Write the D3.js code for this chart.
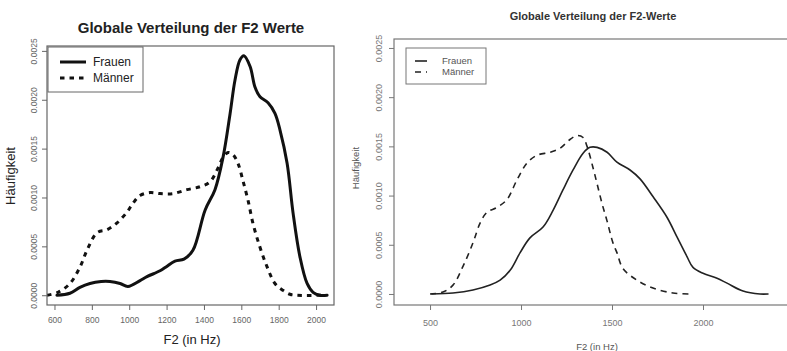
<!DOCTYPE html>
<html>
<head>
<meta charset="utf-8">
<script src="https://cdn.jsdelivr.net/npm/d3@7"></script>
<style>
  html, body { margin: 0; padding: 0; background: #fff; }
  svg { display: block; font-family: "Liberation Sans", Arial, sans-serif; }
</style>
</head>
<body>
<svg id="chart" width="787" height="351"></svg>
<script>
// Density estimates of F2 (Hz), women vs. men — two versions of the same plot
const seriesNames = ["Frauen", "Männer"];

// Left plot: [Hz, density]
const leftFrauen = [
  [613, 0], [683, 0.00002], [736, 0.00008], [790, 0.00012], [850, 0.00014], [897, 0.00014],
  [951, 0.00012], [993, 0.00009], [1058, 0.00015], [1095, 0.00019], [1165, 0.00025],
  [1197, 0.00029], [1245, 0.00035], [1293, 0.00037], [1341, 0.00046], [1406, 0.00087],
  [1459, 0.00108], [1502, 0.00141], [1540, 0.00186], [1566, 0.0022], [1593, 0.00241],
  [1614, 0.00245], [1647, 0.00234], [1673, 0.00213], [1700, 0.00203], [1743, 0.00197],
  [1780, 0.00186], [1807, 0.00169], [1845, 0.00135], [1877, 0.00084], [1914, 0.00039],
  [1952, 0.00012], [1984, 0.00003], [2020, 0], [2059, 0]
];
const leftMaenner = [
  [560, 0], [619, 0.00003], [683, 0.00012], [737, 0.00029], [774, 0.00046], [828, 0.00064],
  [881, 0.00067], [935, 0.00074], [988, 0.00085], [1020, 0.00094], [1058, 0.00102],
  [1111, 0.00105], [1165, 0.00104], [1234, 0.00104], [1309, 0.00108], [1379, 0.00111],
  [1432, 0.00116], [1475, 0.0013], [1502, 0.00141], [1529, 0.00146], [1555, 0.00144],
  [1582, 0.00135], [1609, 0.00117], [1636, 0.00097], [1663, 0.00073], [1700, 0.00049],
  [1738, 0.00029], [1780, 0.00012], [1823, 0.00005], [1860, 0.00001], [1898, 0], [2037, 0]
];

// Right plot: [Hz, density]
const rightFrauen = [
  [510, 0], [626, 0.00001], [736, 0.00004], [830, 0.00009], [885, 0.00014], [940, 0.00024],
  [995, 0.00042], [1049, 0.00057], [1121, 0.00068], [1176, 0.00085], [1231, 0.00106],
  [1286, 0.00126], [1341, 0.00143], [1379, 0.00149], [1418, 0.00149], [1473, 0.00144],
  [1527, 0.00134], [1599, 0.00126], [1654, 0.00117], [1725, 0.00099], [1802, 0.00078],
  [1857, 0.00058], [1912, 0.00038], [1945, 0.00027], [2000, 0.00021], [2077, 0.00016],
  [2132, 0.00011], [2220, 0.00003], [2313, 0], [2357, 0]
];
const rightMaenner = [
  [500, 0], [571, 0.00002], [626, 0.00009], [681, 0.00028], [736, 0.00052], [775, 0.00072],
  [813, 0.00083], [868, 0.00088], [923, 0.00096], [978, 0.00116], [1033, 0.00133],
  [1088, 0.00141], [1159, 0.00144], [1214, 0.00148], [1269, 0.00157], [1308, 0.00161],
  [1341, 0.00159], [1363, 0.0015], [1396, 0.00128], [1418, 0.00112], [1445, 0.00092],
  [1473, 0.00074], [1505, 0.00052], [1527, 0.00042], [1560, 0.00026], [1637, 0.00014],
  [1725, 0.00006], [1835, 0.00001], [1929, 0]
];

const yTicks = [0, 0.0005, 0.001, 0.0015, 0.002, 0.0025];
const leftXTicks = [600, 800, 1000, 1200, 1400, 1600, 1800, 2000];
const rightXTicks = [500, 1000, 1500, 2000];

const titles = ["Globale Verteilung der F2 Werte", "Globale Verteilung der F2-Werte"];
const xLabel = "F2 (in Hz)";
const yLabel = "Häufigkeit";

const svg = d3.select("#chart");

function drawPanel(cfg) {
  const g = svg.append("g");
  const x = d3.scaleLinear().domain(cfg.xDomain).range([cfg.left, cfg.right]);
  const y = d3.scaleLinear().domain(cfg.yDomain).range([cfg.bottom, cfg.top]);

  const clipId = "clip-" + cfg.id;
  svg.append("defs").append("clipPath").attr("id", clipId)
    .append("rect").attr("x", cfg.left).attr("y", cfg.top)
    .attr("width", cfg.right - cfg.left).attr("height", cfg.bottom - cfg.top);

  // Curves
  const line = d3.line().x(d => x(d[0])).y(d => y(d[1])).curve(d3.curveCatmullRom.alpha(0.5));
  g.append("path").datum(cfg.frauen).attr("d", line)
    .attr("fill", "none").attr("stroke", cfg.lineColor).attr("stroke-width", cfg.lw)
    .attr("stroke-linejoin", "round").attr("stroke-linecap", "round")
    .attr("clip-path", `url(#${clipId})`);
  g.append("path").datum(cfg.maenner).attr("d", line)
    .attr("fill", "none").attr("stroke", cfg.lineColor).attr("stroke-width", cfg.lw)
    .attr("stroke-dasharray", cfg.dash).attr("stroke-linecap", "butt")
    .attr("clip-path", `url(#${clipId})`);

  // Plot frame
  g.append("rect").attr("x", cfg.left).attr("y", cfg.top)
    .attr("width", cfg.right - cfg.left).attr("height", cfg.bottom - cfg.top)
    .attr("fill", "none").attr("stroke", cfg.frameColor).attr("stroke-width", 1.2);

  // Y axis
  const yAxis = g.append("g").attr("transform", `translate(${cfg.left},0)`)
    .call(d3.axisLeft(y).tickValues(yTicks).tickSize(5).tickFormat(d3.format(".4f")));
  yAxis.select(".domain").remove();
  yAxis.selectAll(".tick line").attr("stroke", cfg.frameColor);
  yAxis.selectAll(".tick text")
    .attr("transform", "rotate(-90)")
    .attr("x", 0).attr("y", -cfg.yTickOffset).attr("dy", "0")
    .attr("text-anchor", "middle")
    .attr("font-size", cfg.tickFont).attr("fill", cfg.tickColor)
    .attr("font-family", "Liberation Sans, Arial, sans-serif");

  // X axis
  const xAxis = g.append("g").attr("transform", `translate(0,${cfg.bottom})`)
    .call(d3.axisBottom(x).tickValues(cfg.xTicks).tickSize(5).tickFormat(d3.format("d")));
  xAxis.select(".domain").remove();
  xAxis.selectAll(".tick line").attr("stroke", cfg.frameColor);
  xAxis.selectAll(".tick text")
    .attr("y", cfg.xTickOffset).attr("dy", "0")
    .attr("font-size", cfg.tickFont).attr("fill", cfg.tickColor)
    .attr("font-family", "Liberation Sans, Arial, sans-serif");

  // Title and axis labels
  g.append("text").attr("x", cfg.titleX).attr("y", cfg.titleY)
    .attr("text-anchor", "middle").attr("font-weight", "bold")
    .attr("font-size", cfg.titleFont).attr("fill", cfg.titleColor).text(cfg.title);
  g.append("text").attr("x", cfg.xLabelX).attr("y", cfg.xLabelY)
    .attr("text-anchor", "middle").attr("font-size", cfg.labelFont)
    .attr("fill", cfg.labelColor).text(xLabel);
  g.append("text")
    .attr("transform", `translate(${cfg.yLabelX},${cfg.yLabelY}) rotate(-90)`)
    .attr("text-anchor", "middle").attr("font-size", cfg.labelFont)
    .attr("fill", cfg.labelColor).text(yLabel);

  // Legend
  const L = cfg.legend;
  g.append("rect").attr("x", L.x).attr("y", L.y).attr("width", L.w).attr("height", L.h)
    .attr("fill", "#fff").attr("stroke", cfg.frameColor).attr("stroke-width", 1);
  seriesNames.forEach((name, i) => {
    const ly = L.y + L.row0 + i * L.rowGap;
    g.append("line").attr("x1", L.x + L.lineX0).attr("x2", L.x + L.lineX1)
      .attr("y1", ly).attr("y2", ly)
      .attr("stroke", cfg.lineColor).attr("stroke-width", cfg.lw)
      .attr("stroke-dasharray", i === 1 ? cfg.dash : null);
    g.append("text").attr("x", L.x + L.textX).attr("y", ly).attr("dy", "0.35em")
      .attr("font-size", L.font).attr("fill", cfg.labelColor).text(name);
  });
}

drawPanel({
  id: "l", frauen: leftFrauen, maenner: leftMaenner,
  xDomain: [560, 2096], yDomain: [-0.0001, 0.00255],
  left: 47, right: 334, top: 46, bottom: 305,
  xTicks: leftXTicks, lw: 3, dash: "4.5,5", lineColor: "#111",
  frameColor: "#666", tickColor: "#666", tickFont: 8.5,
  yTickOffset: 10, xTickOffset: 18,
  title: titles[0], titleX: 191, titleY: 33, titleFont: 15, titleColor: "#222",
  labelFont: 13, labelColor: "#222",
  xLabelX: 192, xLabelY: 344, yLabelX: 15, yLabelY: 176,
  legend: { x: 48, y: 47, w: 95, h: 45, row0: 15, rowGap: 16, lineX0: 12, lineX1: 38, textX: 45, font: 12 }
});

drawPanel({
  id: "r", frauen: rightFrauen, maenner: rightMaenner,
  xDomain: [302, 2533], yDomain: [-0.000112, 0.002591],
  left: 394, right: 800, top: 39, bottom: 305,
  xTicks: rightXTicks, lw: 1.6, dash: "6,5", lineColor: "#222",
  frameColor: "#777", tickColor: "#777", tickFont: 9,
  yTickOffset: 12, xTickOffset: 21,
  title: titles[1], titleX: 593, titleY: 20, titleFont: 11, titleColor: "#333",
  labelFont: 9.5, labelColor: "#555",
  xLabelX: 597, xLabelY: 350, yLabelX: 359, yLabelY: 168,
  legend: { x: 406, y: 48, w: 80, h: 36, row0: 13, rowGap: 11, lineX0: 9, lineX1: 21, textX: 36, font: 9.5 }
});
</script>
</body>
</html>
